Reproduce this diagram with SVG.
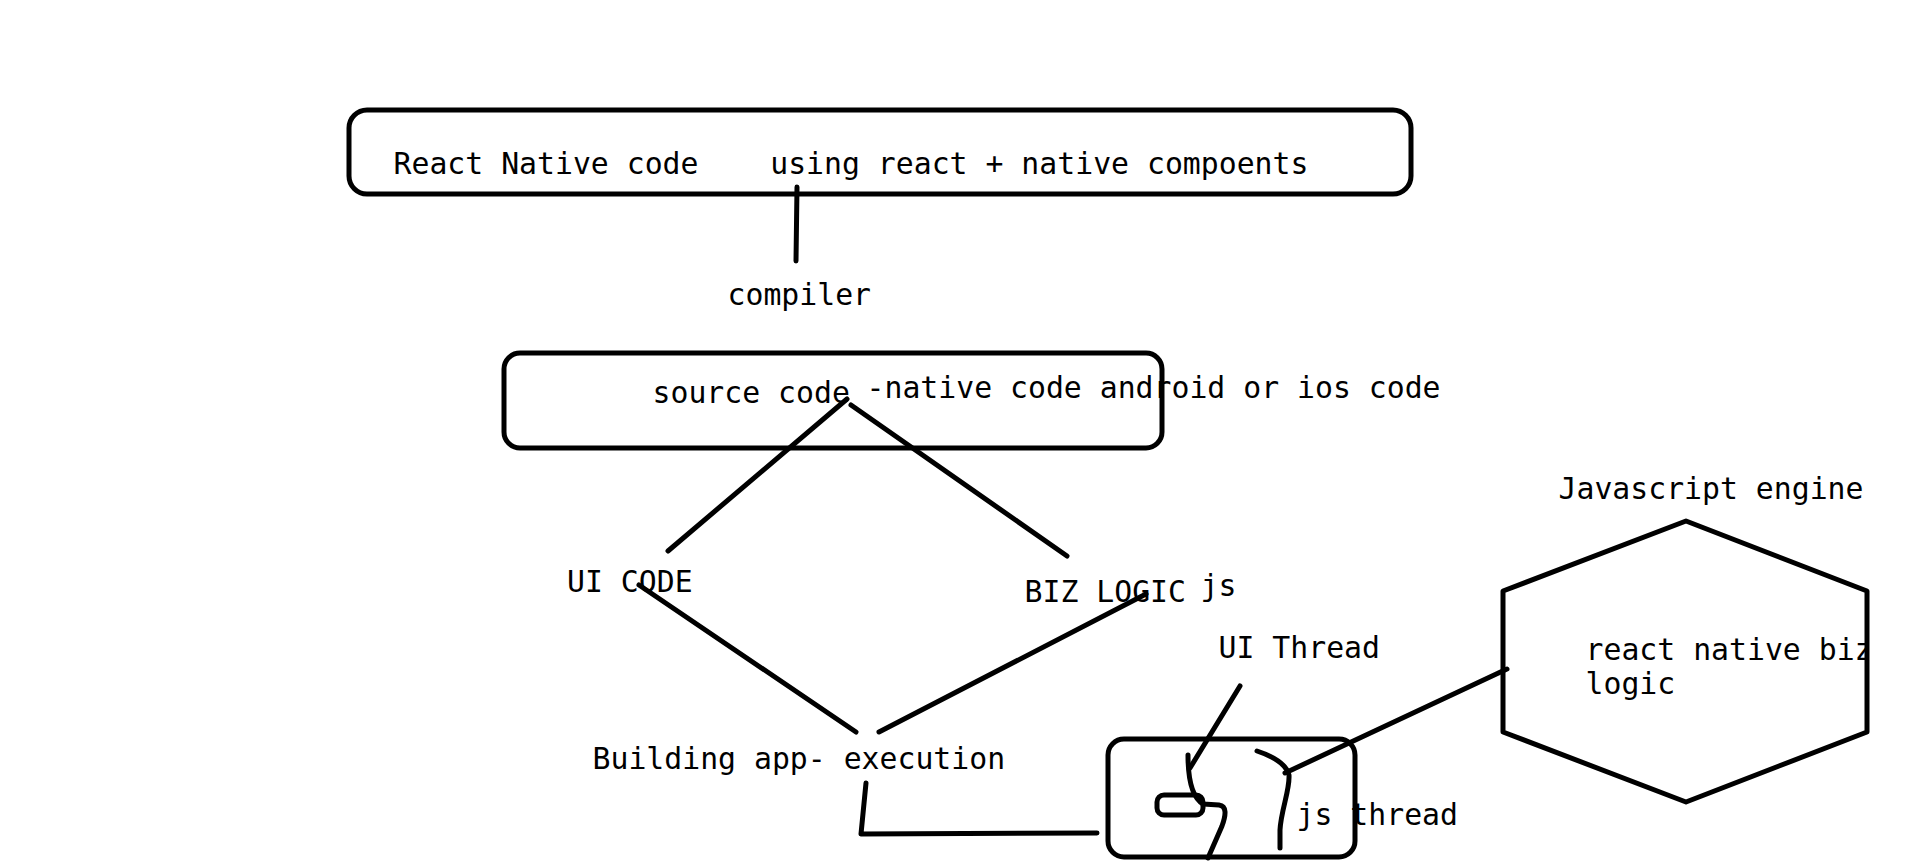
<svg xmlns="http://www.w3.org/2000/svg" width="1914" height="861" viewBox="0 0 1914 861">
<style>
.box{fill:none;stroke:#000;stroke-width:5;stroke-linejoin:round}
.ln{fill:none;stroke:#000;stroke-width:5;stroke-linecap:round;stroke-linejoin:round}
text{font-family:"DejaVu Sans Mono","Liberation Mono",monospace;font-size:29.8px;fill:#000;white-space:pre}
</style>
<defs>
<clipPath id="hexclip"><rect x="1500" y="500" width="366" height="320"/></clipPath>
</defs>
<rect width="1914" height="861" fill="#fff"/>
<g id="react-native-code">
<rect class="box" x="349" y="110" width="1062" height="84" rx="18"/>
<text x="393.5" y="174" xml:space="preserve">React Native code    using react + native compoents</text>
</g>
<g id="compiler">
<text x="727.5" y="305">compiler</text>
</g>
<g id="source-code">
<rect class="box" x="504" y="353" width="658" height="95" rx="16"/>
<text x="652.5" y="403">source code</text>
<text x="866.5" y="398">-native code android or ios code</text>
</g>
<g id="ui-code"><text x="567" y="592">UI CODE</text></g>
<g id="biz-logic"><text x="1024.5" y="602">BIZ LOGIC</text><text x="1200.5" y="596">js</text></g>
<g id="building"><text x="592.5" y="769">Building app- execution</text></g>
<g id="threads">
<rect class="box" x="1108" y="739" width="247" height="118" rx="16"/>
<rect class="box" x="1157" y="795" width="46" height="20" rx="7"/>
<text x="1218.5" y="658">UI Thread</text>
<text x="1296.5" y="825">js thread</text>
</g>
<g id="js-engine">
<polygon class="box" points="1686,521 1867,591 1867,732 1686,802 1503,732 1503,591"/>
<text x="1558.5" y="499">Javascript engine</text>
<g clip-path="url(#hexclip)">
<text x="1585.5" y="660">react native biz</text>
<text x="1585.5" y="694">logic</text>
</g>
</g>
<g id="connectors">
<line class="ln" x1="797" y1="187" x2="796" y2="261"/>
<line class="ln" x1="847" y1="399" x2="668" y2="551"/>
<line class="ln" x1="851" y1="405" x2="1067" y2="556"/>
<line class="ln" x1="639" y1="585" x2="856" y2="732"/>
<line class="ln" x1="1146" y1="594" x2="879" y2="732"/>
<polyline class="ln" points="866,783 861,834 1097,833"/>
<line class="ln" x1="1240" y1="686" x2="1190" y2="768"/>
<path class="ln" d="M1188,755 C1188,780 1193,798 1203,804 L1219,805 C1227,806 1226,815 1222,826 L1208,858"/>
<path class="ln" d="M1257,751 C1272,756 1286,763 1289,775 C1290,790 1281,810 1280,830 L1280,848"/>
<line class="ln" x1="1285" y1="773" x2="1507" y2="669"/>
</g>
</svg>
